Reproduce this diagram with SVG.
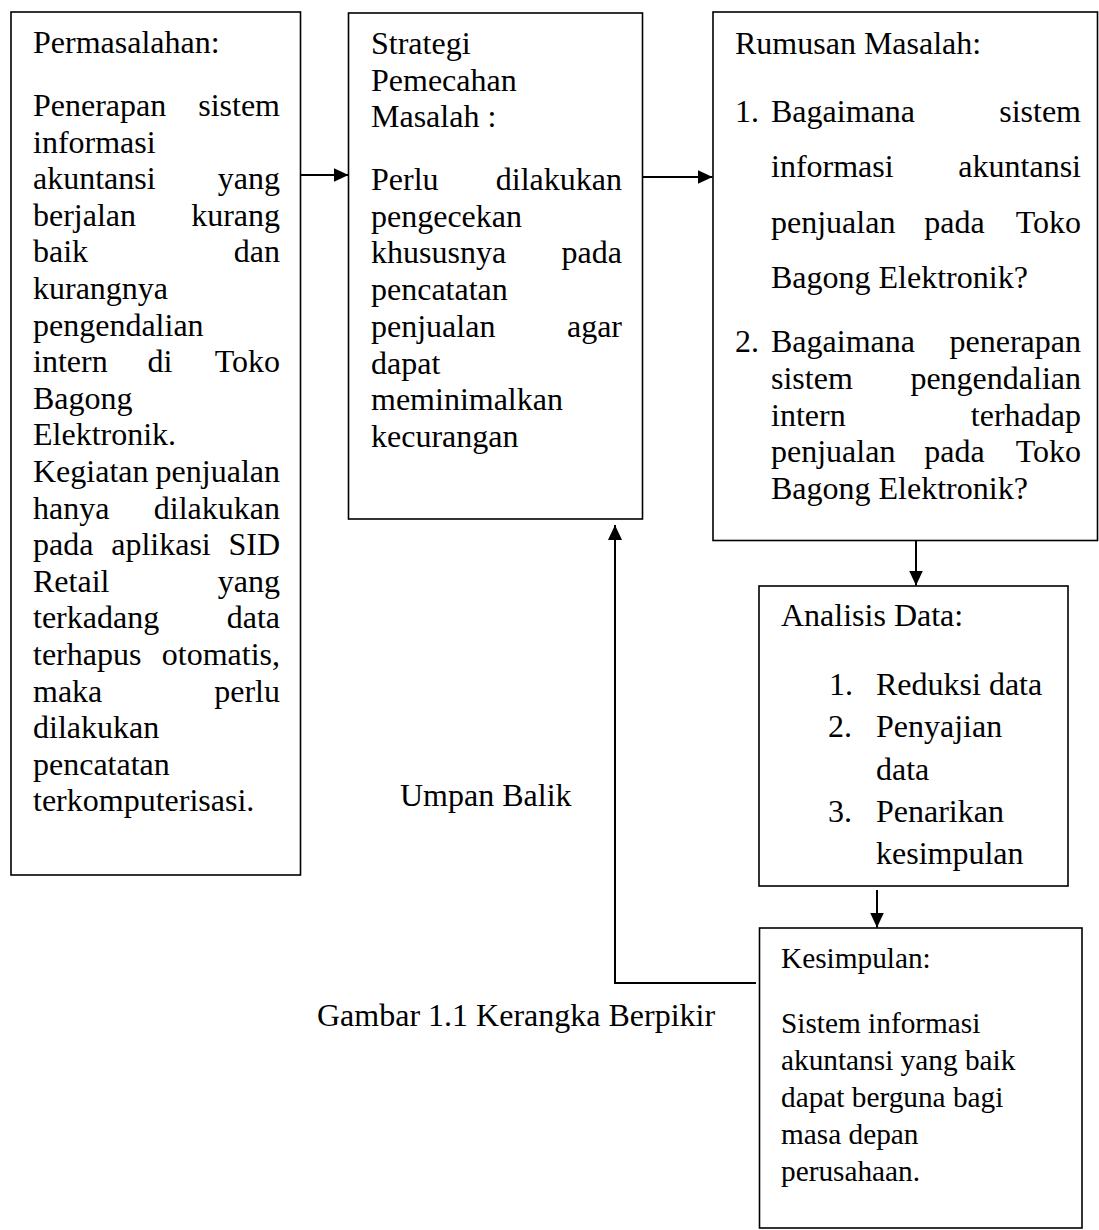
<svg xmlns="http://www.w3.org/2000/svg" width="1099" height="1230" viewBox="0 0 1099 1230">
  <style>
    .box { fill: #fff; stroke: #000; stroke-width: 1.6; }
    .t { font-family: "Liberation Serif", "Times New Roman", serif; font-size: 32px; fill: #000; }
    .sm { font-size: 29.3px; }
    .e { text-anchor: end; }
    .wire { fill: none; stroke: #000; stroke-width: 2; }
  </style>
  <defs>
    <marker id="head" viewBox="0 0 15 14" refX="15" refY="7" markerWidth="15" markerHeight="14" markerUnits="userSpaceOnUse" orient="auto">
      <path d="M0,0 L15,7 L0,14 z" fill="#000"/>
    </marker>
  </defs>
  <rect width="1099" height="1230" fill="#fff"/>

  <!-- connectors -->
  <g id="connectors">
    <line class="wire" x1="301" y1="175" x2="348.5" y2="175" marker-end="url(#head)"/>
    <line class="wire" x1="643" y1="177" x2="712.5" y2="177" marker-end="url(#head)"/>
    <line class="wire" x1="916" y1="541" x2="916" y2="585.5" marker-end="url(#head)"/>
    <line class="wire" x1="877" y1="890" x2="877" y2="927.5" marker-end="url(#head)"/>
    <path class="wire" d="M756,983 L615,983 L615,525" marker-end="url(#head)"/>
  </g>

  <!-- Permasalahan -->
  <g id="permasalahan">
    <rect class="box" x="11" y="12" width="289.5" height="863"/>
    <text class="t" x="33" y="53">Permasalahan:</text>
    <text class="t" y="116"><tspan x="33">Penerapan</tspan><tspan x="280" class="e">sistem</tspan></text>
    <text class="t" x="33" y="152.6">informasi</text>
    <text class="t" y="189.2"><tspan x="33">akuntansi</tspan><tspan x="280" class="e">yang</tspan></text>
    <text class="t" y="225.8"><tspan x="33">berjalan</tspan><tspan x="280" class="e">kurang</tspan></text>
    <text class="t" y="262.4"><tspan x="33">baik</tspan><tspan x="280" class="e">dan</tspan></text>
    <text class="t" x="33" y="299">kurangnya</text>
    <text class="t" x="33" y="335.6">pengendalian</text>
    <text class="t" y="372.2"><tspan x="33">intern</tspan><tspan x="147.6">di</tspan><tspan x="280" class="e">Toko</tspan></text>
    <text class="t" x="33" y="408.8">Bagong</text>
    <text class="t" x="33" y="445.4">Elektronik.</text>
    <text class="t" y="482"><tspan x="33">Kegiatan</tspan><tspan x="280" class="e">penjualan</tspan></text>
    <text class="t" y="518.6"><tspan x="33">hanya</tspan><tspan x="280" class="e">dilakukan</tspan></text>
    <text class="t" y="555.2"><tspan x="33">pada</tspan><tspan x="111.2">aplikasi</tspan><tspan x="280" class="e">SID</tspan></text>
    <text class="t" y="591.8"><tspan x="33">Retail</tspan><tspan x="280" class="e">yang</tspan></text>
    <text class="t" y="628.4"><tspan x="33">terkadang</tspan><tspan x="280" class="e">data</tspan></text>
    <text class="t" y="665"><tspan x="33">terhapus</tspan><tspan x="280" class="e">otomatis,</tspan></text>
    <text class="t" y="701.6"><tspan x="33">maka</tspan><tspan x="280" class="e">perlu</tspan></text>
    <text class="t" x="33" y="738.2">dilakukan</text>
    <text class="t" x="33" y="774.8">pencatatan</text>
    <text class="t" x="33" y="811.4">terkomputerisasi.</text>
  </g>

  <!-- Strategi Pemecahan Masalah -->
  <g id="strategi">
    <rect class="box" x="348.5" y="13" width="294" height="506"/>
    <text class="t" x="371" y="54">Strategi</text>
    <text class="t" x="371" y="90.7">Pemecahan</text>
    <text class="t" x="371" y="127.4">Masalah :</text>
    <text class="t" y="190"><tspan x="371">Perlu</tspan><tspan x="622" class="e">dilakukan</tspan></text>
    <text class="t" x="371" y="226.7">pengecekan</text>
    <text class="t" y="263.4"><tspan x="371">khususnya</tspan><tspan x="622" class="e">pada</tspan></text>
    <text class="t" x="371" y="300.1">pencatatan</text>
    <text class="t" y="336.8"><tspan x="371">penjualan</tspan><tspan x="622" class="e">agar</tspan></text>
    <text class="t" x="371" y="373.5">dapat</text>
    <text class="t" x="371" y="410.2">meminimalkan</text>
    <text class="t" x="371" y="446.9">kecurangan</text>
  </g>

  <!-- Rumusan Masalah -->
  <g id="rumusan">
    <rect class="box" x="713" y="12" width="384.5" height="528.5"/>
    <text class="t" x="735" y="54">Rumusan Masalah:</text>
    <text class="t" y="122"><tspan x="735">1.</tspan><tspan x="771">Bagaimana</tspan><tspan x="1081" class="e">sistem</tspan></text>
    <text class="t" y="177.4"><tspan x="771">informasi</tspan><tspan x="1081" class="e">akuntansi</tspan></text>
    <text class="t" y="232.8"><tspan x="771">penjualan</tspan><tspan x="924.2">pada</tspan><tspan x="1081" class="e">Toko</tspan></text>
    <text class="t" x="771" y="288.2">Bagong Elektronik?</text>
    <text class="t" y="352"><tspan x="735">2.</tspan><tspan x="771">Bagaimana</tspan><tspan x="1081" class="e">penerapan</tspan></text>
    <text class="t" y="388.8"><tspan x="771">sistem</tspan><tspan x="1081" class="e">pengendalian</tspan></text>
    <text class="t" y="425.6"><tspan x="771">intern</tspan><tspan x="1081" class="e">terhadap</tspan></text>
    <text class="t" y="462.4"><tspan x="771">penjualan</tspan><tspan x="924.2">pada</tspan><tspan x="1081" class="e">Toko</tspan></text>
    <text class="t" x="771" y="499.2">Bagong Elektronik?</text>
  </g>

  <!-- Analisis Data -->
  <g id="analisis">
    <rect class="box" x="759" y="586" width="309" height="300"/>
    <text class="t" x="781" y="626">Analisis Data:</text>
    <text class="t" y="695"><tspan x="829">1.</tspan><tspan x="876">Reduksi data</tspan></text>
    <text class="t" y="737.3"><tspan x="828">2.</tspan><tspan x="876">Penyajian</tspan></text>
    <text class="t" x="876" y="779.6">data</text>
    <text class="t" y="821.9"><tspan x="828">3.</tspan><tspan x="876">Penarikan</tspan></text>
    <text class="t" x="876" y="864.2">kesimpulan</text>
  </g>

  <!-- Kesimpulan -->
  <g id="kesimpulan">
    <rect class="box" x="759.5" y="928" width="322.5" height="300"/>
    <text class="t sm" x="781" y="968">Kesimpulan:</text>
    <text class="t sm" x="781" y="1033">Sistem informasi</text>
    <text class="t sm" x="781" y="1070">akuntansi yang baik</text>
    <text class="t sm" x="781" y="1107">dapat berguna bagi</text>
    <text class="t sm" x="781" y="1144">masa depan</text>
    <text class="t sm" x="781" y="1181">perusahaan.</text>
  </g>

  <!-- free labels -->
  <g id="labels">
    <text class="t" x="400" y="806">Umpan Balik</text>
    <text class="t" x="317" y="1026">Gambar 1.1 Kerangka Berpikir</text>
  </g>
</svg>
